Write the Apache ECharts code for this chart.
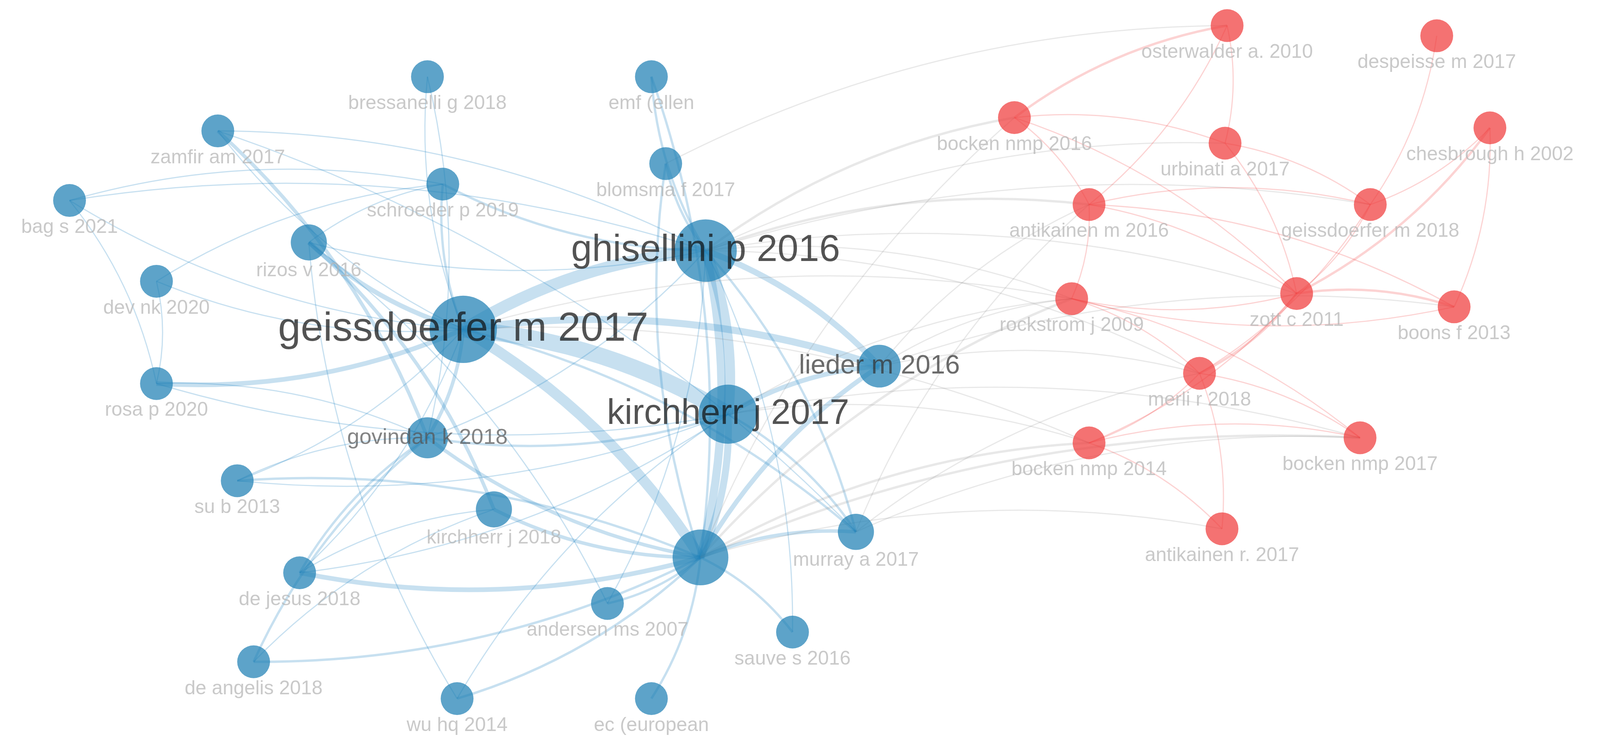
<!DOCTYPE html>
<html>
<head>
<meta charset="utf-8">
<script src="https://cdn.jsdelivr.net/npm/echarts@6/dist/echarts.min.js"></script>
<style>html,body{margin:0;padding:0;background:#fff}#main{width:4110px;height:1917px}</style>
</head>
<body>
<div id="main"></div>
<script>
// node table (map coordinates, weights ~ circle size)
const nodeNames = ['bressanelli g 2018','emf (ellen','zamfir am 2017','blomsma f 2017','schroeder p 2019','bag s 2021','rizos v 2016','ghisellini p 2016','dev nk 2020','geissdoerfer m 2017','lieder m 2016','rosa p 2020','kirchherr j 2017','govindan k 2018','su b 2013','kirchherr j 2018','murray a 2017','hub','de jesus 2018','andersen ms 2007','sauve s 2016','de angelis 2018','wu hq 2014','ec (european',
  'osterwalder a. 2010','despeisse m 2017','bocken nmp 2016','urbinati a 2017','chesbrough h 2002','antikainen m 2016','geissdoerfer m 2018','rockstrom j 2009','zott c 2011','boons f 2013','merli r 2018','bocken nmp 2014','bocken nmp 2017','antikainen r. 2017'];
const nodeX = [418,637,213,651,433,68,302,690,153,453,860,153,712,418,232,483,837,685,293,594,775,248,447,637, 1200,1405,992,1198,1457,1065,1340,1048,1268,1422,1173,1065,1330,1195];
const nodeY = [75,75,128,160,180,196,237,245,275,322,358,375,405,428,470,498,520,545,560,590,618,647,683,683, 25,35,115,140,125,200,200,292,287,300,365,433,428,517];
const nodeWeight = [1,1,1,1,1,1,1.1,1.9,1,2.05,1.3,1,1.8,1.25,1,1.1,1.1,1.7,1,1,1,1,1,1, 1,1,1,1,1,1,1,1,1,1,1,1,1,1];
const nodeGroup = [0,0,0,0,0,0,0,0,0,0,0,0,0,0,0,0,0,0,0,0,0,0,0,0, 1,1,1,1,1,1,1,1,1,1,1,1,1,1];
// big labels: [dy offset, font size, colour]
const bigLabels = {
  'ghisellini p 2016': [131, 96, '#111'],
  'geissdoerfer m 2017': [147, 104, '#111'],
  'kirchherr j 2017': [105, 90, '#111'],
  'lieder m 2016': [84, 68, '#333'],
  'govindan k 2018': [84, 56, '#555']
};

// links: [source, target, strength]
const links = [
  ['geissdoerfer m 2017','ghisellini p 2016',10],['geissdoerfer m 2017','kirchherr j 2017',14],['geissdoerfer m 2017','hub',9],
  ['ghisellini p 2016','kirchherr j 2017',9],['ghisellini p 2016','hub',7],['kirchherr j 2017','hub',6],
  ['geissdoerfer m 2017','lieder m 2016',6],['ghisellini p 2016','lieder m 2016',5],['kirchherr j 2017','lieder m 2016',4],
  ['hub','lieder m 2016',4],['geissdoerfer m 2017','rizos v 2016',4],['geissdoerfer m 2017','rosa p 2020',4],
  ['geissdoerfer m 2017','govindan k 2018',3],['hub','de jesus 2018',4],['hub','govindan k 2018',3],['zamfir am 2017','govindan k 2018',3],
  ['rizos v 2016','kirchherr j 2018',3],['hub','kirchherr j 2018',3],['hub','murray a 2017',3],['hub','de angelis 2018',2],
  ['hub','wu hq 2014',2],['hub','andersen ms 2007',2],['hub','sauve s 2016',2],['hub','ec (european',2],['hub','blomsma f 2017',2],
  ['ghisellini p 2016','emf (ellen',2],['ghisellini p 2016','schroeder p 2019',2],['ghisellini p 2016','murray a 2017',2],
  ['kirchherr j 2017','murray a 2017',2],['geissdoerfer m 2017','bag s 2021',1],['geissdoerfer m 2017','dev nk 2020',1],
  ['geissdoerfer m 2017','su b 2013',1],['geissdoerfer m 2017','de jesus 2018',1],['geissdoerfer m 2017','zamfir am 2017',1],
  ['geissdoerfer m 2017','schroeder p 2019',2],['geissdoerfer m 2017','bressanelli g 2018',1],['geissdoerfer m 2017','murray a 2017',2],
  ['ghisellini p 2016','rizos v 2016',1],['ghisellini p 2016','govindan k 2018',1],['ghisellini p 2016','sauve s 2016',1],
  ['ghisellini p 2016','andersen ms 2007',1],['ghisellini p 2016','blomsma f 2017',2],['kirchherr j 2017','govindan k 2018',2],
  ['kirchherr j 2017','de jesus 2018',1],['kirchherr j 2017','su b 2013',1],['kirchherr j 2017','rosa p 2020',1],
  ['bag s 2021','schroeder p 2019',1],['bag s 2021','rosa p 2020',1],['dev nk 2020','schroeder p 2019',1],['dev nk 2020','rosa p 2020',1],
  ['rosa p 2020','govindan k 2018',1],['su b 2013','govindan k 2018',1],['de jesus 2018','govindan k 2018',2],['de angelis 2018','govindan k 2018',2],
  ['de angelis 2018','kirchherr j 2018',1],['wu hq 2014','rizos v 2016',1],['wu hq 2014','kirchherr j 2017',1],['zamfir am 2017','ghisellini p 2016',1],
  ['bressanelli g 2018','govindan k 2018',1],['emf (ellen','hub',2],['rizos v 2016','schroeder p 2019',1],['rizos v 2016','andersen ms 2007',1],
  ['bag s 2021','ghisellini p 2016',1],['su b 2013','hub',2],['de jesus 2018','kirchherr j 2018',1],['zamfir am 2017','murray a 2017',1],
  // cross cluster
  ['ghisellini p 2016','bocken nmp 2016',2],['ghisellini p 2016','antikainen m 2016',2],['ghisellini p 2016','rockstrom j 2009',1],
  ['ghisellini p 2016','zott c 2011',1],['ghisellini p 2016','merli r 2018',1],['ghisellini p 2016','urbinati a 2017',1],
  ['geissdoerfer m 2017','rockstrom j 2009',1],['geissdoerfer m 2017','bocken nmp 2014',1],['lieder m 2016','antikainen m 2016',1],
  ['lieder m 2016','rockstrom j 2009',1],['lieder m 2016','merli r 2018',1],['kirchherr j 2017','bocken nmp 2014',1],
  ['kirchherr j 2017','rockstrom j 2009',1],['hub','bocken nmp 2014',2],['hub','bocken nmp 2017',2],['hub','antikainen r. 2017',1],
  ['hub','rockstrom j 2009',2],['hub','bocken nmp 2016',1],['murray a 2017','bocken nmp 2017',1],['murray a 2017','merli r 2018',1],
  ['murray a 2017','antikainen m 2016',1],['blomsma f 2017','osterwalder a. 2010',1],['kirchherr j 2017','bocken nmp 2017',1],
  ['lieder m 2016','boons f 2013',1],['ghisellini p 2016','geissdoerfer m 2018',1],
  // red cluster
  ['bocken nmp 2016','osterwalder a. 2010',2],['bocken nmp 2016','urbinati a 2017',1],['bocken nmp 2016','antikainen m 2016',1],
  ['osterwalder a. 2010','urbinati a 2017',1],['osterwalder a. 2010','antikainen m 2016',1],['despeisse m 2017','geissdoerfer m 2018',1],
  ['chesbrough h 2002','geissdoerfer m 2018',1],['chesbrough h 2002','zott c 2011',2],['chesbrough h 2002','boons f 2013',1],
  ['antikainen m 2016','geissdoerfer m 2018',1],['antikainen m 2016','zott c 2011',1],['antikainen m 2016','boons f 2013',1],
  ['antikainen m 2016','rockstrom j 2009',1],['urbinati a 2017','zott c 2011',1],['urbinati a 2017','geissdoerfer m 2018',1],
  ['zott c 2011','boons f 2013',2],['zott c 2011','merli r 2018',2],['zott c 2011','bocken nmp 2014',1],['zott c 2011','rockstrom j 2009',1],
  ['geissdoerfer m 2018','merli r 2018',1],['geissdoerfer m 2018','zott c 2011',1],['rockstrom j 2009','merli r 2018',1],
  ['merli r 2018','bocken nmp 2014',1],['merli r 2018','bocken nmp 2017',1],['bocken nmp 2014','bocken nmp 2017',1],
  ['bocken nmp 2014','antikainen r. 2017',1],['merli r 2018','antikainen r. 2017',1],['rockstrom j 2009','bocken nmp 2017',1],
  ['boons f 2013','rockstrom j 2009',1],['bocken nmp 2016','zott c 2011',1]
];

const S = 4110 / 1570;
const groupColor = ['#1f7fb4', '#f03c3c'];
const linkColor = ['rgba(30,130,195,0.5)', 'rgba(240,60,60,0.45)', 'rgba(140,140,140,0.4)'];
const idx = n => nodeNames.indexOf(n);

const data = nodeNames.map((n, i) => {
  const big = bigLabels[n];
  const d = {
    name: n,
    value: [nodeX[i], nodeY[i]],
    symbolSize: 84 * nodeWeight[i],
    itemStyle: { color: groupColor[nodeGroup[i]], opacity: 0.72 },
    label: {
      show: n !== 'hub',
      position: 'bottom',
      distance: 2,
      offset: [0, -12],
      color: '#b4b4b4',
      fontSize: 50
    }
  };
  if (big) {
    d.label = { show: true, position: 'inside', offset: [0, big[0]], fontSize: big[1], color: big[2] };
  }
  return d;
});

const edges = links.map(([a, b, w]) => {
  const ga = nodeGroup[idx(a)], gb = nodeGroup[idx(b)];
  const c = ga === gb ? linkColor[ga] : linkColor[2];
  return { source: a, target: b, lineStyle: { width: 3 * w, color: c, curveness: 0.12 } };
});

const chart = echarts.init(document.getElementById('main'));
chart.setOption({
  backgroundColor: '#fff',
  grid: { left: 0, right: 0, top: 0, bottom: 0 },
  xAxis: { type: 'value', min: 0, max: 1570, show: false },
  yAxis: { type: 'value', min: 0, max: 1917 / S, inverse: true, show: false },
  series: [{
    type: 'graph',
    coordinateSystem: 'cartesian2d',
    layout: 'none',
    data: data,
    links: edges,
    emphasis: { disabled: true },
    labelLayout: { hideOverlap: false },
    label: { fontFamily: 'Liberation Sans' },
    z: 2
  }]
});
</script>
</body>
</html>
